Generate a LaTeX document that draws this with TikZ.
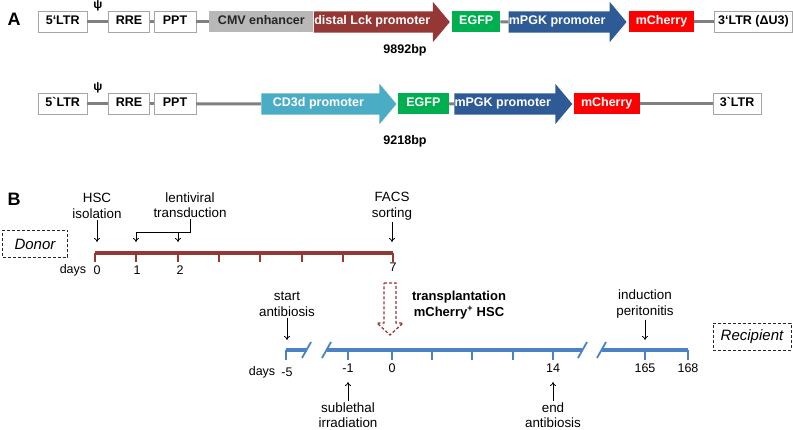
\documentclass[tikz,border=0pt]{standalone}
\usepackage{fontspec}
\setmainfont{Liberation Sans}
\usepackage{xcolor}
\usetikzlibrary{positioning,shapes.arrows,arrows.meta}

\definecolor{lckred}{HTML}{953735}
\definecolor{egfpgreen}{HTML}{00B050}
\definecolor{pgkblue}{HTML}{2E5A96}
\definecolor{cdcyan}{HTML}{4BACC6}
\definecolor{cmvgray}{HTML}{B8B8B8}
\definecolor{linegray}{HTML}{808080}
\definecolor{recblue}{HTML}{4A82C4}

\newcommand{\boxfont}{\fontsize{12.5}{14}\selectfont\bfseries}
\newcommand{\evfont}{\fontsize{13.4}{15.5}\selectfont}

\begin{document}
\begin{tikzpicture}[
  x=1pt, y=-1pt,
  element/.style={rectangle, draw=black!35, fill=white, font=\boxfont, minimum height=21pt, inner sep=0pt, text height=9pt, text depth=3pt},
  gene/.style={rectangle, font=\boxfont, text=white, minimum height=21pt, inner sep=0pt, text height=9pt, text depth=3pt},
  promoter/.style={single arrow, single arrow head extend=9.5pt, single arrow tip angle=100, font=\boxfont, text=white, anchor=tail, inner xsep=0pt, inner ysep=4.5pt, text height=9pt, text depth=3pt},
  link/.style={draw=linegray, line width=3pt},
  psi/.style={above=10pt, inner sep=0pt, font=\fontsize{12}{14}\selectfont\bfseries},
  size/.style={font=\boxfont},
  panel/.style={font=\fontsize{18}{20}\selectfont\bfseries},
  hostbox/.style={rectangle, draw=black!85, dash pattern=on 3pt off 2pt, line width=0.9pt, font=\fontsize{15}{17}\selectfont\itshape, minimum height=27pt, inner sep=0pt},
  event/.style={align=center, font=\evfont, inner sep=1.5pt},
  daylabel/.style={font=\fontsize{12.5}{14}\selectfont, inner sep=0pt},
  evarrow/.style={-{To[length=4pt,width=6pt]}, line width=0.8pt},
  donorline/.style={draw=lckred, line width=4pt},
  donortick/.style={draw=lckred, line width=2pt},
  recline/.style={draw=recblue, line width=4pt},
  rectick/.style={draw=recblue, line width=2pt},
  recbreak/.style={draw=recblue, line width=1.8pt},
  transarrow/.style={draw=lckred, line width=1.3pt, dash pattern=on 3pt off 2pt}
]
\useasboundingbox (0,0) rectangle (793,430);

% Panel A: constructs
\node[panel] (panelA) at (14,19) {A};
\node[element, minimum width=49pt, anchor=west] (ltrA) at (38,22) {5`LTR};
\node[element, minimum width=41pt, right=21pt of ltrA] (rreA) {RRE};
\node[element, minimum width=42pt, right=4pt of rreA] (pptA) {PPT};
\node[gene, fill=cmvgray, text=black!85, minimum width=104pt, right=13pt of pptA] (cmvA) {CMV enhancer};
\node[promoter, fill=lckred, minimum height=136pt] (lckA) at (cmvA.east) {distal Lck promoter\hspace*{10pt}};
\node[gene, fill=egfpgreen, minimum width=48pt, right=2pt of lckA.tip] (egfpA) {EGFP};
\node[promoter, fill=pgkblue, minimum height=117pt] (pgkA) at ([xshift=8pt]egfpA.east) {mPGK promoter\hspace*{12pt}};
\node[gene, fill=red, minimum width=65pt, right=2pt of pgkA.tip] (mchA) {mCherry};
\node[element, minimum width=78pt, right=20pt of mchA] (ltr3A) {3`LTR (ΔU3)};
\node[size] (sizeA) at (405,50) {9892bp};

\draw[link] (ltrA) -- node[psi] (psiA) {ψ} (rreA);
\draw[link] (rreA) -- (pptA);
\draw[link] (pptA) -- (cmvA);
\draw[link] (egfpA) -- (pgkA);
\draw[link] (mchA) -- (ltr3A);

\node[element, minimum width=49pt, anchor=west] (ltrB) at (38,104) {5\textasciigrave LTR};
\node[element, minimum width=41pt, right=21pt of ltrB] (rreB) {RRE};
\node[element, minimum width=42pt, right=4pt of rreB] (pptB) {PPT};
\node[promoter, fill=cdcyan, minimum height=135pt] (cd3B) at ([xshift=65pt]pptB.east) {CD3d promoter\hspace*{12pt}};
\node[gene, fill=egfpgreen, minimum width=51pt, right=1pt of cd3B.tip] (egfpB) {EGFP};
\node[promoter, fill=pgkblue, minimum height=118pt] (pgkB) at ([xshift=5pt]egfpB.east) {mPGK promoter\hspace*{12pt}};
\node[gene, fill=red, minimum width=66pt, right=1pt of pgkB.tip] (mchB) {mCherry};
\node[element, minimum width=48pt, right=73pt of mchB] (ltr3B) {3\textasciigrave LTR};
\node[size] (sizeB) at (405,141) {9218bp};

\draw[link] (ltrB) -- node[psi] (psiB) {ψ} (rreB);
\draw[link] (rreB) -- (pptB);
\draw[link] (pptB) -- (cd3B);
\draw[link] (egfpB) -- (pgkB);
\draw[link] (mchB) -- (ltr3B);

% Panel B: donor time line
\node[panel] (panelB) at (14,199) {B};
\node[hostbox, minimum width=65pt] (donor) at (35,244) {Donor};
\draw[donorline] (95,253) -- (393,253);
\foreach \x in {95,136,178,219,260,302,343,393}
  \draw[donortick] (\x,253) -- (\x,262);
\node[daylabel] (ddays) at (73,270) {days};
\foreach \x/\d in {97/0,137/1,180/2}
  \node[daylabel] (dday\d) at (\x,270) {\d};
\node[daylabel] (dday7) at (393,267) {7};

\node[event] (hsc) at (97,206) {HSC\\isolation};
\coordinate (hscend) at (97,242);
\draw[evarrow] (hsc) -- (hscend);
\node[event] (lenti) at (190,205) {lentiviral\\transduction};
\coordinate (fork) at (190,232);
\coordinate (lentione) at (136,242);
\coordinate (lentitwo) at (178,242);
\draw[evarrow] (lenti) -- (fork) -| (lentione);
\draw[evarrow] (lentitwo |- fork) -- (lentitwo);
\node[event] (facs) at (392,206) {FACS\\sorting};
\coordinate (facsend) at (392,242);
\draw[evarrow] (facs) -- (facsend);

% transplantation
\draw[transarrow] (384,283) -- (396,283) -- (396,323) -- (403,323) -- (390,335) -- (377,323) -- (384,323) -- cycle;
\node[event, font=\fontsize{13}{15.5}\selectfont\bfseries] (transpl) at (459,305) {transplantation\\mCherry\textsuperscript{+} HSC};

% recipient time line
\node[hostbox, minimum width=78pt] (recipient) at (752,337) {Recipient};
\draw[recline] (286,350) -- (307,350);
\draw[recline] (327,350) -- (582,350);
\draw[recline] (602,350) -- (688,350);
\foreach \x in {302,322,578,597}
  \draw[recbreak] (\x,358) -- ++(9,-16);
\foreach \x in {286,348,392,432,472,513,553,645,688}
  \draw[rectick] (\x,350) -- (\x,360);
\node[daylabel] (rdays) at (262,372) {days};
\node[daylabel] (rdaym5) at (287,372) {-5};
\foreach \x/\d in {348/-1,392/0,553/14,645/165,688/168}
  \node[daylabel] (rday\d) at (\x,368) {\d};

\node[event] (startab) at (287,304) {start\\antibiosis};
\coordinate (startabend) at (287,340);
\draw[evarrow] (startab) -- (startabend);
\node[event] (induct) at (645,304) {induction\\peritonitis};
\coordinate (inductend) at (645,340);
\draw[evarrow] (induct) -- (inductend);
\node[event] (irrad) at (348,415) {sublethal\\irradiation};
\coordinate (irradend) at (348,382);
\draw[evarrow] (irrad) -- (irradend);
\node[event] (endab) at (553,415) {end\\antibiosis};
\coordinate (endabend) at (553,382);
\draw[evarrow] (endab) -- (endabend);
\end{tikzpicture}
\end{document}
